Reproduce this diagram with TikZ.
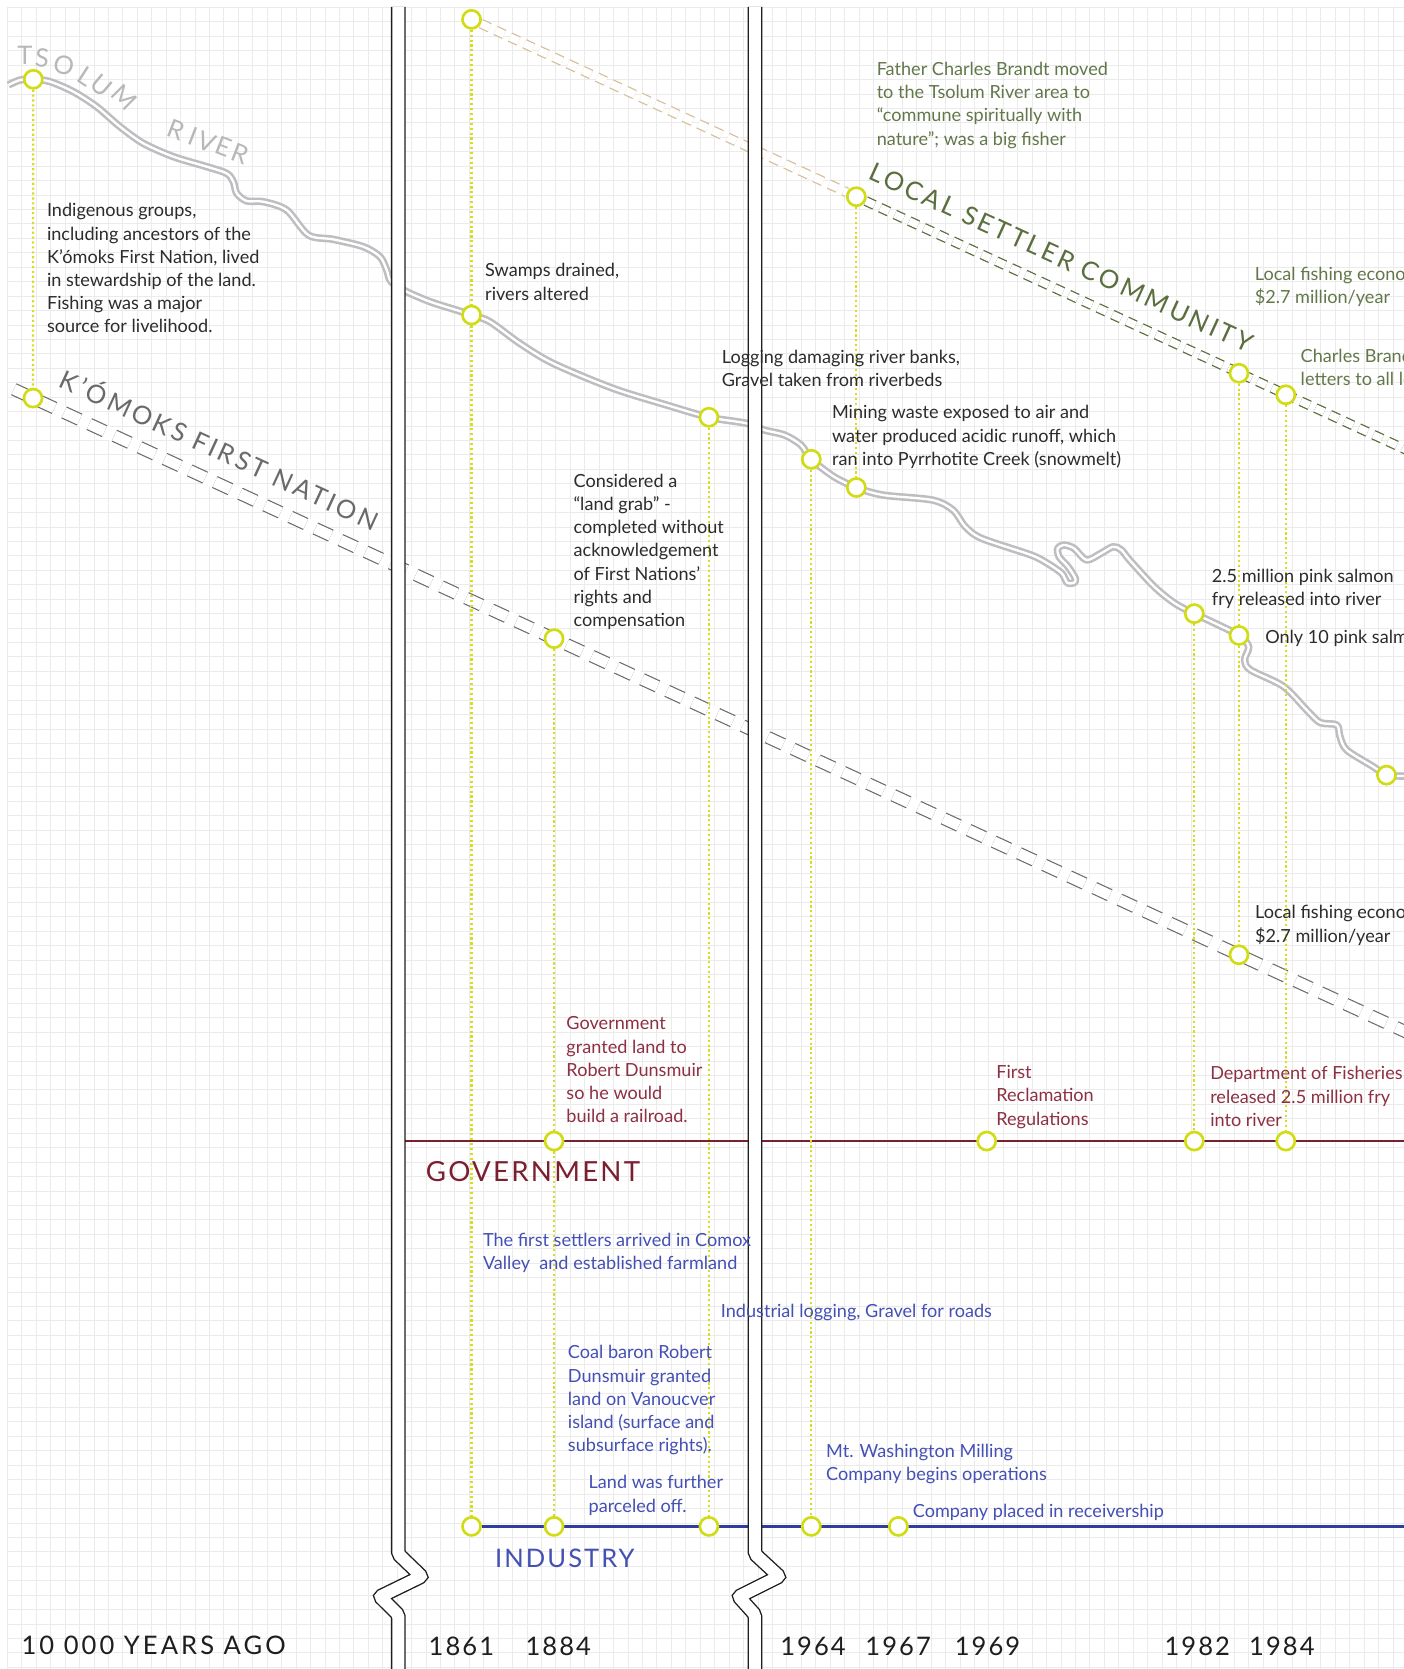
\documentclass[tikz,border=0pt]{standalone}
\usepackage{fontspec}
\setmainfont{Lato}
\newfontfamily\trackfont{Lato}[LetterSpace=8]
\newfontfamily\widetrackfont{Lato}[LetterSpace=12]
\usetikzlibrary{backgrounds}

\definecolor{gridline}{HTML}{EBEBEB}
\definecolor{riverline}{HTML}{BEBEC2}
\definecolor{ringyellow}{HTML}{D2DC14}
\definecolor{dropyellow}{HTML}{D6DE22}
\definecolor{govred}{HTML}{7B1E30}
\definecolor{govtext}{HTML}{8E3044}
\definecolor{indblue}{HTML}{2F3E9E}
\definecolor{indtext}{HTML}{4450B4}
\definecolor{settlergreen}{HTML}{5A6E3E}
\definecolor{setnotetext}{HTML}{63784A}
\definecolor{settlertan}{HTML}{D8BF9C}
\definecolor{nationgray}{HTML}{6A6A6A}
\definecolor{tsolumgray}{HTML}{B8B8B8}
\definecolor{ink}{HTML}{1E1E1E}
\definecolor{notetext}{HTML}{2C2C2C}

\begin{document}
\begin{tikzpicture}[x=1pt,y=-1pt,every node/.style={inner sep=0pt},
  event/.style={circle,draw=ringyellow,fill=white,line width=2.5pt,minimum size=17pt},
  dropline/.style={dropyellow,line width=2pt,dash pattern=on 2pt off 2.6pt},
  note/.style={anchor=north west,align=left,text=notetext,font=\fontsize{17}{21.8}\selectfont},
  govnote/.style={note,text=govtext},
  indnote/.style={note,text=indtext},
  setnote/.style={note,text=setnotetext},
  river/.style={draw=riverline,line width=2.4pt,double=white,double distance=2.2pt,line join=round},
  nationband/.style={draw=nationgray,line width=1.1pt,double=white,double distance=10pt,dash pattern=on 16pt off 10pt},
  settlerband/.style={line width=1.2pt,double=white,double distance=7pt,dash pattern=on 9pt off 6pt},
  breakbar/.style={draw=ink,line width=1.3pt,double=white,double distance=11.2pt,rounded corners=2pt},
  bandlabel/.style={font=\widetrackfont\fontsize{24}{24}\selectfont},
  caplabel/.style={anchor=west,font=\trackfont\fontsize{24}{24}\selectfont},
  yearlabel/.style={text=ink,font=\trackfont\fontsize{24}{24}\selectfont}]
\useasboundingbox (0,0) rectangle (1319,1568);

% events
\node[event] (tsolum)     at (31.3,74.5) {};
\node[event] (nation0)    at (31,374) {};
\node[event] (settlerA)   at (443,18.2) {};
\node[event] (river1861)  at (443,296) {};
\node[event] (nation1884) at (520.5,600) {};
\node[event] (riverLog)   at (666,392) {};
\node[event] (settlerB)   at (804.5,184.8) {};
\node[event] (river1964)  at (762.2,431.5) {};
\node[event] (river1967)  at (804.5,458) {};
\node[event] (settlerC)   at (1164,350.7) {};
\node[event] (settlerD)   at (1208,370.9) {};
\node[event] (river1982)  at (1122,576.5) {};
\node[event] (river1983)  at (1164,597) {};
\node[event] (riverEnd)   at (1302.6,728.2) {};
\node[event] (nation1983) at (1164,897) {};
\node[event] (gov1884)    at (520.5,1072) {};
\node[event] (gov1969)    at (927,1072) {};
\node[event] (gov1982)    at (1122,1072) {};
\node[event] (gov1984)    at (1208,1072) {};
\node[event] (ind1861)    at (443,1434) {};
\node[event] (ind1884)    at (520.5,1434) {};
\node[event] (indLog)     at (666,1434) {};
\node[event] (ind1964)    at (762.2,1434) {};
\node[event] (ind1967)    at (844,1434) {};

\coordinate (nationStart) at (13,365.7);
\coordinate (nationEnd)   at (1325,971.4);
\coordinate (settlerEnd)  at (1325,424.4);
\coordinate (govStart)    at (374,1072);
\coordinate (govEnd)      at (1325,1072);
\coordinate (indEnd)      at (1325,1434);

\begin{scope}[on background layer]
  \fill[white] (0,0) rectangle (1319,1568);
  \draw[gridline,line width=0.7pt,step=13.56pt,shift={(6.9,6.9)}] (0,0) grid (1320,1570);
  \draw[white,line width=12pt] (nationStart) -- (nationEnd);
  \draw[nationband] (nationStart) -- (nationEnd);
  \draw[settlerband,draw=settlertan] (settlerA) -- (settlerB);
  \draw[settlerband,draw=settlergreen] (settlerB) -- (settlerEnd);
  \draw[river] plot[smooth,tension=0.5] coordinates {
    (7.8,79.9) (18.8,75.2) (31.3,74.5) (47,76.7) (68.9,86.1) (90.8,100.2)
    (112.7,119) (134.7,134.7) (162.9,147.2) (194.2,156.6) (213,162.9)
    (219.2,170.7) (222.4,181.6) (231.8,188.8) (247.4,189.5) (269.3,197.3)
    (289.7,220.8) (313.2,224.9) (341.4,231.8) (357,241.2) (363.3,253.7)
    (367,264) (378.9,272.5) (403.9,283.4) (428.9,291.3) (443,296) (460.2,302.2)
    (488.4,322.6) (519.7,341.4) (576.1,364.9) (626.2,380.5) (666,392)
    (701.4,397.7) (717.9,404) (737.1,408.7) (752.6,418.1) (762.2,431.5)
    (783.4,447.8) (804.5,458) (829.7,465.1) (876,469.8) (895.3,479.2)
    (906.9,494.8) (922.3,505.8) (968.6,521.4) (984.1,529.3) (997.6,538.7)
    (1002.6,547.4) (1009.1,547.4) (1010.3,543.4) (1003.4,532.4) (994.9,523)
    (993.7,515.2) (999.5,512) (1009.1,515.2) (1020.7,526.1) (1034.2,519.9)
    (1045.8,513.6) (1053.5,516.7) (1061.2,526.1) (1084.4,551.2) (1103.7,566.8)
    (1122,576.5) (1138.4,584.1) (1164,597) (1173.1,607.5) (1169.2,620.1)
    (1175,629.5) (1205.7,644.8) (1227.7,667.1) (1240.2,678.8) (1255.9,681.1)
    (1258.9,692.1) (1265.2,704.6) (1290.2,720.3) (1302.6,728.2) (1322,729)};
  \draw[govred,line width=2.2pt] (govStart) -- (govEnd);
  \draw[indblue,line width=2.4pt] (ind1861) -- (indEnd);
  \draw[dropline] (tsolum) -- (nation0);
  \draw[dropline] (settlerA) -- (river1861);
  \draw[dropline] (river1861) -- (ind1861);
  \draw[dropline] (nation1884) -- (gov1884);
  \draw[dropline] (gov1884) -- (ind1884);
  \draw[dropline] (riverLog) -- (indLog);
  \draw[dropline] (river1964) -- (ind1964);
  \draw[dropline] (settlerB) -- (river1967);
  \draw[dropline] (river1982) -- (gov1982);
  \draw[dropline] (settlerC) -- (river1983);
  \draw[dropline] (river1983) -- (nation1983);
  \draw[dropline] (settlerD) -- (gov1984);
\end{scope}

% time breaks
\draw[breakbar] (374.2,6.5) -- (374.2,1460) -- (396,1481) -- (357,1500) -- (374.2,1517) -- (374.2,1575);
\draw[breakbar] (709.3,6.5) -- (709.3,1460) -- (732,1481) -- (694,1500) -- (709.3,1517) -- (709.3,1575);

% river name
\foreach \ch/\cx/\cy/\ang [count=\i] in {T/23.5/52.3/0,S/39.5/54.8/-5,O/60.1/61.1/-15,L/81.1/71.4/-33,
    U/95.5/80.8/-40,M/116.5/91.4/-45,R/166/122.1/-21,I/181/128.1/-21,V/194.5/133.4/-21,
    E/209.8/137.8/-21,R/225.8/144.7/-21}
  \node[text=tsolumgray,rotate=\ang,font=\fontsize{24}{24}\selectfont] (tsolumletter\i) at (\cx,\cy) {\ch};

\node[bandlabel,text=settlergreen,rotate=-24.6] (settlerlabel) at (997,242) {LOCAL SETTLER COMMUNITY};
\node[bandlabel,text=nationgray,rotate=-24.7] (nationlabel) at (207,421) {K’ÓMOKS FIRST NATION};
\node[caplabel,text=govred,font=\trackfont\fontsize{26}{26}\selectfont] (govlabel) at (400,1100.5) {GOVERNMENT};
\node[caplabel,text=indtext] (indlabel) at (465,1464) {INDUSTRY};
\node[caplabel,text=ink,font=\widetrackfont\fontsize{24}{24}\selectfont] (agolabel) at (20,1546) {10 000 YEARS AGO};

\node[yearlabel] (y1861) at (433.5,1547) {1861};
\node[yearlabel] (y1884) at (524.5,1547) {1884};
\node[yearlabel] (y1964) at (763.8,1547) {1964};
\node[yearlabel] (y1967) at (843.8,1547) {1967};
\node[yearlabel] (y1969) at (927.8,1547) {1969};
\node[yearlabel] (y1982) at (1124.8,1547) {1982};
\node[yearlabel] (y1984) at (1204.3,1547) {1984};

% notes
\node[note] (indigenous) at (44,191) {Indigenous groups,\\including ancestors of the\\K’ómoks First Nation, lived\\in stewardship of the land.\\Fishing was a major\\source for livelihood.};
\node[note] (swamps) at (455.6,247.5) {Swamps drained,\\rivers altered};
\node[note] (logging) at (678,329) {Logging damaging river banks,\\Gravel taken from riverbeds};
\node[note] (mining) at (781.5,380.8) {Mining waste exposed to air and\\water produced acidic runoff, which\\ran into Pyrrhotite Creek (snowmelt)};
\node[note] (landgrab) at (538.7,445) {Considered a\\“land grab” -\\completed without\\acknowledgement\\of First Nations’\\rights and\\compensation};
\node[setnote] (brandt) at (823.5,58.2) {Father Charles Brandt moved\\to the Tsolum River area to\\“commune spiritually with\\nature”; was a big fisher};
\node[setnote] (fishingA) at (1178.7,250.8) {Local fishing econo\\\$2.7 million/year};
\node[setnote] (letters) at (1221.8,327.5) {Charles Brand\\letters to all le};
\node[note] (fry) at (1138.4,534.2) {2.5 million pink salmon\\fry released into river};
\node[note] (onlyten) at (1188.5,592.1) {Only 10 pink salm};
\node[note] (fishingB) at (1179,850.5) {Local fishing econo\\\$2.7 million/year};
\node[govnote] (railroad) at (532,955) {Government\\granted land to\\Robert Dunsmuir\\so he would\\build a railroad.};
\node[govnote] (reclamation) at (935.8,1000.8) {First\\Reclamation\\Regulations};
\node[govnote] (fisheries) at (1136.8,1001.8) {Department of Fisheries\\released 2.5 million fry\\into river};
\node[indnote] (settlers) at (453.6,1158.3) {The first settlers arrived in Comox\\Valley\ \ and established farmland};
\node[indnote] (gravel) at (677.1,1224.7) {Industrial logging, Gravel for roads};
\node[indnote] (coalbaron) at (533.4,1264) {Coal baron Robert\\Dunsmuir granted\\land on Vanoucver\\island (surface and\\subsurface rights).};
\node[indnote] (parceled) at (552.8,1386) {Land was further\\parceled off.};
\node[indnote] (milling) at (776,1356.3) {Mt. Washington Milling\\Company begins operations};
\node[indnote] (receiver) at (857.4,1412.6) {Company placed in receivership};
\end{tikzpicture}
\end{document}
